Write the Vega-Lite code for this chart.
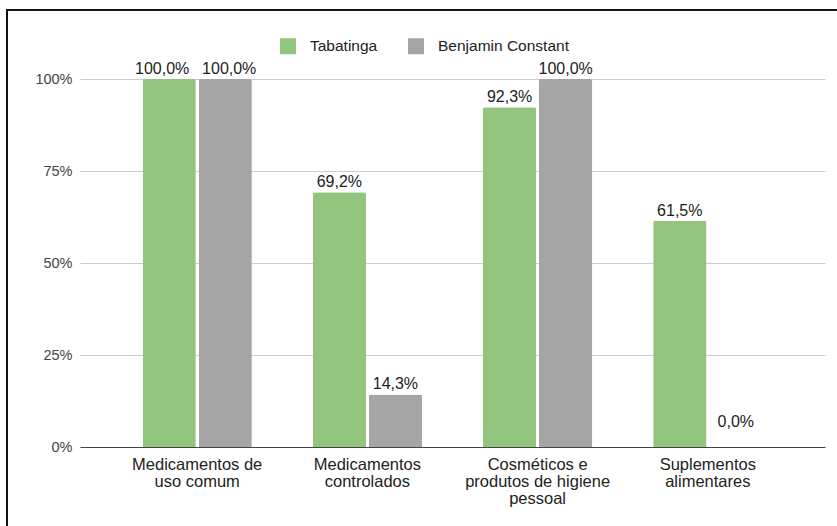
{
  "$schema": "https://vega.github.io/schema/vega-lite/v6.json",
  "autosize": "none",
  "width": 840,
  "height": 530,
  "padding": {"left": 7, "top": 10, "right": -10, "bottom": -14},
  "background": "#ffffff",
  "config": {
    "locale": {"number": {"decimal": ",", "thousands": ".", "grouping": [3], "currency": ["R$", ""]}},
    "font": "Liberation Sans",
    "view": {"stroke": "#111111", "strokeWidth": 2},
    "axis": {"title": null, "ticks": false}
  },
  "data": {
    "values": [
      {"categoria": "Medicamentos de uso comum", "municipio": "Tabatinga", "pct": 1.0},
      {"categoria": "Medicamentos de uso comum", "municipio": "Benjamin Constant", "pct": 1.0},
      {"categoria": "Medicamentos controlados", "municipio": "Tabatinga", "pct": 0.692},
      {"categoria": "Medicamentos controlados", "municipio": "Benjamin Constant", "pct": 0.143},
      {"categoria": "Cosméticos e produtos de higiene pessoal", "municipio": "Tabatinga", "pct": 0.923},
      {"categoria": "Cosméticos e produtos de higiene pessoal", "municipio": "Benjamin Constant", "pct": 1.0},
      {"categoria": "Suplementos alimentares", "municipio": "Tabatinga", "pct": 0.615},
      {"categoria": "Suplementos alimentares", "municipio": "Benjamin Constant", "pct": 0.0}
    ]
  },
  "encoding": {
    "x": {
      "field": "categoria",
      "type": "nominal",
      "sort": null,
      "scale": {"range": [73, 818], "paddingInner": 0.358, "paddingOuter": 0.3675},
      "axis": {
        "orient": "bottom",
        "offset": -93,
        "labelAngle": 0,
        "labelFontSize": 16.5,
        "labelColor": "#222222",
        "labelPadding": 9,
        "labelLineHeight": 17,
        "labelExpr": "datum.label == 'Medicamentos de uso comum' ? ['Medicamentos de', 'uso comum'] : datum.label == 'Medicamentos controlados' ? ['Medicamentos', 'controlados'] : datum.label == 'Cosméticos e produtos de higiene pessoal' ? ['Cosméticos e', 'produtos de higiene', 'pessoal'] : ['Suplementos', 'alimentares']",
        "domainColor": "#444444",
        "domainWidth": 1,
        "grid": false
      }
    },
    "xOffset": {
      "field": "municipio",
      "type": "nominal",
      "sort": ["Tabatinga", "Benjamin Constant"],
      "scale": {"paddingInner": 0.05, "paddingOuter": 0}
    },
    "y": {
      "field": "pct",
      "type": "quantitative",
      "scale": {"domain": [0, 1], "range": [437, 69]},
      "axis": {
        "orient": "left",
        "offset": -73,
        "values": [0, 0.25, 0.5, 0.75, 1],
        "format": ".0%",
        "domain": false,
        "labelFontSize": 14.5,
        "labelColor": "#444444",
        "labelPadding": 8,
        "grid": true,
        "gridColor": "#cccccc",
        "gridWidth": 1
      }
    }
  },
  "layer": [
    {
      "mark": {"type": "bar", "cornerRadiusTopLeft": 2, "cornerRadiusTopRight": 2},
      "encoding": {
        "color": {
          "field": "municipio",
          "type": "nominal",
          "scale": {"domain": ["Tabatinga", "Benjamin Constant"], "range": ["#93c47d", "#a5a5a5"]},
          "legend": {
            "title": null,
            "orient": "none",
            "direction": "horizontal",
            "legendX": 273,
            "legendY": 28,
            "padding": 0,
            "symbolType": "square",
            "symbolSize": 256,
            "symbolStrokeWidth": 0,
            "symbolOpacity": 1,
            "labelFontSize": 15.5,
            "labelColor": "#222222",
            "labelOffset": 14,
            "columnPadding": 30
          }
        }
      }
    },
    {
      "mark": {
        "type": "text",
        "baseline": "alphabetic",
        "align": "center",
        "fontSize": 16,
        "color": "#222222",
        "dy": {"expr": "datum.pct == 0 ? -20 : -5"},
        "dx": {"expr": "datum.categoria == 'Medicamentos de uso comum' ? (datum.municipio == 'Tabatinga' ? -7 : 4) : 0"}
      },
      "encoding": {
        "text": {"field": "pct", "type": "quantitative", "format": ".1%"}
      }
    }
  ]
}
